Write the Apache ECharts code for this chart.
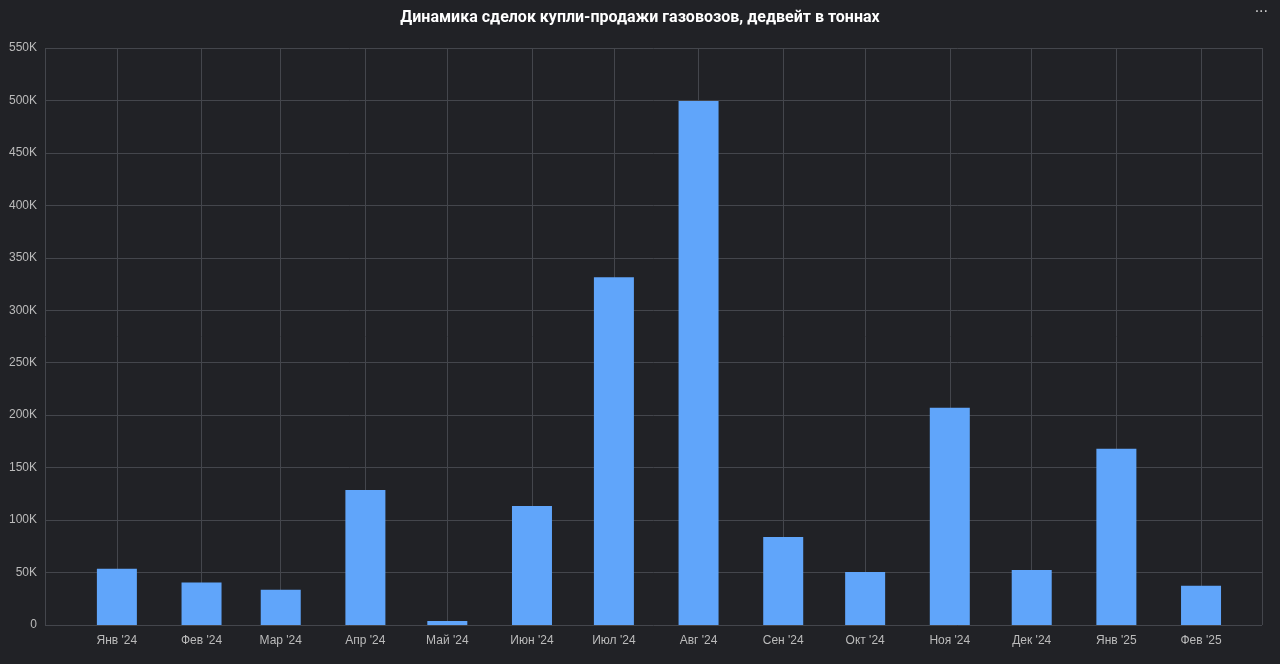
<!DOCTYPE html><html><head><meta charset="utf-8"><script src="https://cdn.jsdelivr.net/npm/echarts@6/dist/echarts.min.js"></script>
<style>body{margin:0;background:#212226}#c{width:1280px;height:664px}</style></head><body><div id="c"></div>
<script>
const months=['2024-01-01','2024-02-01','2024-03-01','2024-04-01','2024-05-01','2024-06-01','2024-07-01','2024-08-01','2024-09-01','2024-10-01','2024-11-01','2024-12-01','2025-01-01','2025-02-01'];
const values=[53500,40500,33500,128700,3800,113500,331500,499500,84000,50500,207000,52500,168000,37500];
const monthNames=['Янв','Фев','Мар','Апр','Май','Июн','Июл','Авг','Сен','Окт','Ноя','Дек'];
const chart=echarts.init(document.getElementById('c'));
chart.setOption({
backgroundColor:'#212226',
title:{text:'Динамика сделок купли-продажи газовозов, дедвейт в тоннах',left:'center',top:5,textStyle:{color:'#fff',fontSize:16,fontWeight:'bold',fontFamily:'Roboto'}},
graphic:[{type:'text',right:12,top:0,style:{text:'...',fill:'#ccc',fontSize:16}}],
grid:{left:45,right:18,top:48,bottom:39},
xAxis:{type:'time',min:+new Date('2023-12-13'),max:+new Date('2025-02-16'),minInterval:28*86400000,maxInterval:31*86400000,
 axisLine:{show:false},axisTick:{show:false},
 splitLine:{show:true,lineStyle:{color:'#44464c'}},
 axisLabel:{color:'#bbb',fontSize:12,margin:10,formatter:v=>{const d=new Date(v);return monthNames[d.getMonth()]+" '"+String(d.getFullYear()).slice(2);}}},
yAxis:{type:'value',min:0,max:550000,interval:50000,
 axisLabel:{color:'#bbb',fontSize:12,formatter:v=>v===0?'0':(v/1000)+'K'},
 splitLine:{lineStyle:{color:'#44464c'}}},
series:[{type:'bar',barWidth:40,data:months.map((m,i)=>[+new Date(m),values[i]]),itemStyle:{color:'#60a5fa'}}]
});
</script></body></html>
